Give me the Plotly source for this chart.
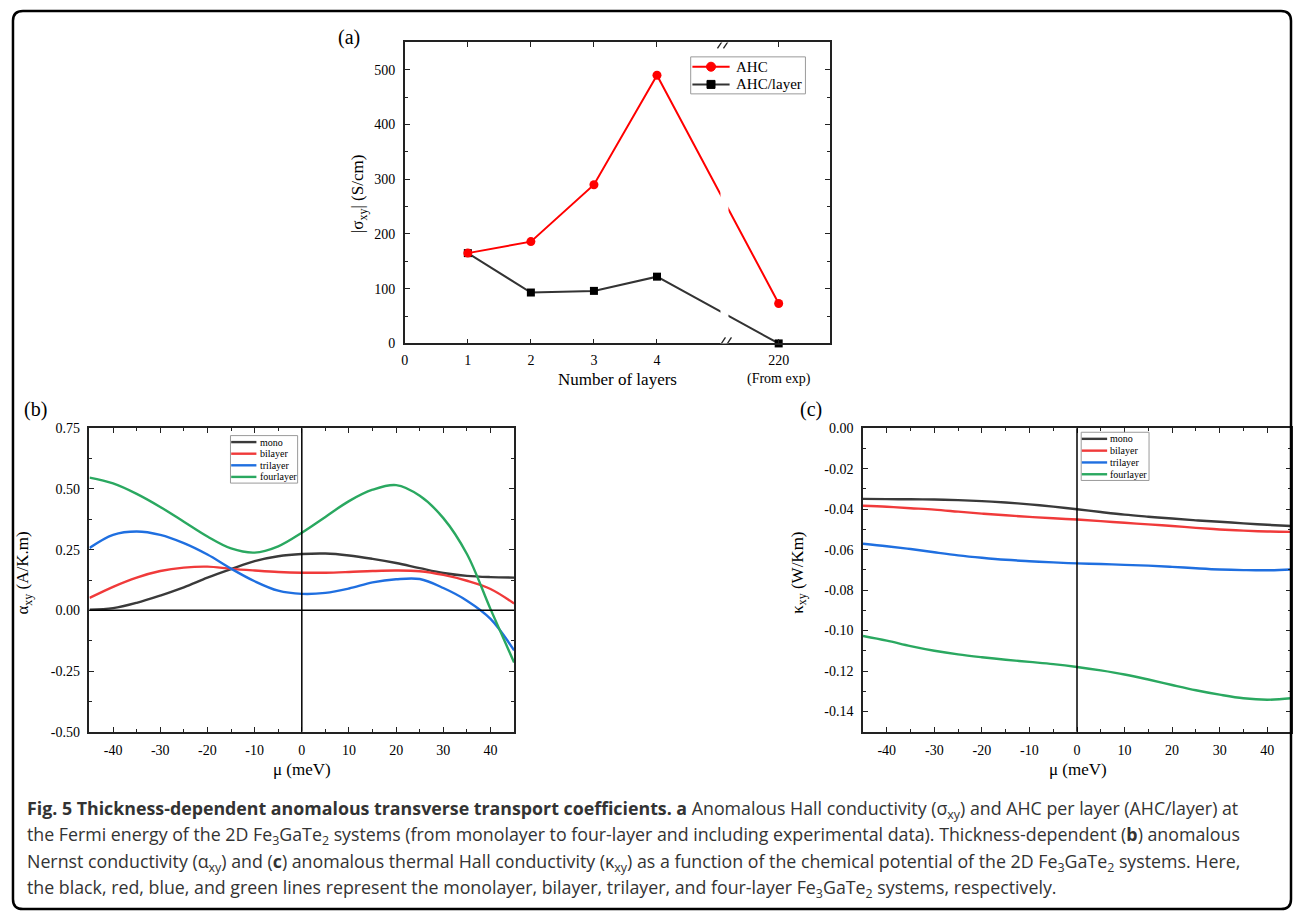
import plotly.graph_objects as go

W, H = 1293, 920

# ---------------- data ----------------
layers = [1, 2, 3, 4, 220]
layer_labels = ["1", "2", "3", "4", "220<br>(From exp)"]
ahc = [165, 186, 290, 490, 73]
ahc_per_layer = [165, 93, 96, 122, 0]

mu = [-45, -40, -35, -30, -25, -20, -15, -10, -5, 0, 5, 10, 15, 20, 25, 30, 35, 40, 45]
series_names = ["mono", "bilayer", "trilayer", "fourlayer"]
alpha_mono = [0.003, 0.009, 0.031, 0.061, 0.095, 0.135, 0.170, 0.203, 0.223, 0.232, 0.234, 0.226, 0.212, 0.195, 0.174, 0.154, 0.142, 0.137, 0.135]
alpha_bi = [0.051, 0.097, 0.135, 0.162, 0.176, 0.180, 0.171, 0.164, 0.158, 0.155, 0.155, 0.158, 0.162, 0.164, 0.161, 0.146, 0.122, 0.088, 0.028]
alpha_tri = [0.257, 0.311, 0.325, 0.311, 0.277, 0.230, 0.172, 0.120, 0.081, 0.068, 0.072, 0.090, 0.115, 0.128, 0.129, 0.092, 0.040, -0.035, -0.165]
alpha_four = [0.547, 0.523, 0.480, 0.426, 0.365, 0.304, 0.255, 0.238, 0.264, 0.320, 0.385, 0.450, 0.497, 0.516, 0.472, 0.380, 0.232, 0.005, -0.215]

kappa_mono = [-0.0349, -0.0350, -0.0351, -0.0352, -0.0355, -0.0360, -0.0367, -0.0376, -0.0387, -0.0400, -0.0414, -0.0427, -0.0437, -0.0446, -0.0455, -0.0462, -0.0470, -0.0477, -0.0483]
kappa_bi = [-0.0383, -0.0388, -0.0395, -0.0402, -0.0412, -0.0422, -0.0430, -0.0438, -0.0445, -0.0451, -0.0459, -0.0467, -0.0475, -0.0483, -0.0492, -0.0500, -0.0506, -0.0510, -0.0512]
kappa_tri = [-0.0571, -0.0583, -0.0597, -0.0613, -0.0628, -0.0640, -0.0650, -0.0657, -0.0663, -0.0668, -0.0671, -0.0675, -0.0679, -0.0685, -0.0692, -0.0698, -0.0701, -0.0702, -0.0698]
kappa_four = [-0.1027, -0.1050, -0.1077, -0.1100, -0.1118, -0.1132, -0.1144, -0.1155, -0.1166, -0.1180, -0.1197, -0.1217, -0.1242, -0.1269, -0.1295, -0.1317, -0.1335, -0.1342, -0.1335]

a_yticks = [0, 100, 200, 300, 400, 500]
b_xticks = [-40, -30, -20, -10, 0, 10, 20, 30, 40]
b_yticks = [-0.50, -0.25, 0.00, 0.25, 0.50, 0.75]
c_yticks = [0.00, -0.02, -0.04, -0.06, -0.08, -0.10, -0.12, -0.14]

caption_lines = [
    "<b>Fig. 5 Thickness-dependent anomalous transverse transport coefficients. a</b> Anomalous Hall conductivity (σ<sub>xy</sub>) and AHC per layer (AHC/layer) at",
    "the Fermi energy of the 2D Fe<sub>3</sub>GaTe<sub>2</sub> systems (from monolayer to four-layer and including experimental data). Thickness-dependent (<b>b</b>) anomalous",
    "Nernst conductivity (α<sub>xy</sub>) and (<b>c</b>) anomalous thermal Hall conductivity (κ<sub>xy</sub>) as a function of the chemical potential of the 2D Fe<sub>3</sub>GaTe<sub>2</sub> systems. Here,",
    "the black, red, blue, and green lines represent the monolayer, bilayer, trilayer, and four-layer Fe<sub>3</sub>GaTe<sub>2</sub> systems, respectively.",
]

# ---------------- styles ----------------
SERIF = "Liberation Serif"
colors = ["#3a3a3a", "#f03a3a", "#1f6fe0", "#2aa860"]
LW = 2.4

# broken-axis mapping for panel (a)
POS_220 = 5.93
BREAK_POS = 5.07
def axis_pos(n):
    return n if n <= 4 else POS_220

def fx(px):
    return px / W
def fy(py):
    return 1 - py / H

fig = go.Figure()

# ---------------- panel (a) ----------------
xa = [axis_pos(n) for n in layers]
fig.add_trace(go.Scatter(x=xa, y=ahc_per_layer, mode="lines+markers", xaxis="x", yaxis="y",
                         line=dict(color="#333333", width=2), cliponaxis=False,
                         marker=dict(symbol="square", size=8, color="black"), showlegend=False))
fig.add_trace(go.Scatter(x=xa, y=ahc, mode="lines+markers", xaxis="x", yaxis="y",
                         line=dict(color="#ff0000", width=2), cliponaxis=False,
                         marker=dict(symbol="circle", size=9, color="#ff0000"), showlegend=False))

# ---------------- panel (b) ----------------
for name, ys, col in zip(series_names, [alpha_mono, alpha_bi, alpha_tri, alpha_four], colors):
    fig.add_trace(go.Scatter(x=mu, y=ys, mode="lines", xaxis="x2", yaxis="y2", name=name,
                             line=dict(color=col, width=LW, shape="spline", smoothing=1.0), showlegend=False))
# ---------------- panel (c) ----------------
for name, ys, col in zip(series_names, [kappa_mono, kappa_bi, kappa_tri, kappa_four], colors):
    fig.add_trace(go.Scatter(x=mu, y=ys, mode="lines", xaxis="x3", yaxis="y3", name=name,
                             line=dict(color=col, width=LW, shape="spline", smoothing=1.0), showlegend=False))

tickfont = dict(family=SERIF, size=14, color="black")
def ax(**kw):
    base = dict(showgrid=False, zeroline=False, showline=True, linecolor="#222", linewidth=1.5,
                mirror="ticks", ticks="inside", ticklen=5, tickwidth=1.2, tickcolor="#222",
                tickfont=tickfont, ticklabelstandoff=5)
    base.update(kw)
    return base

fmt2 = lambda v: ("-" if v < 0 else "") + f"{abs(v):.2f}"

fig.update_layout(
    width=W, height=H, margin=dict(l=0, r=0, t=0, b=0),
    paper_bgcolor="white", plot_bgcolor="white",
    showlegend=False,
    xaxis=ax(domain=[fx(402.7), fx(829)], range=[0, 6.745], anchor="y",
             tickvals=[0] + [axis_pos(n) for n in layers], ticktext=["0"] + layer_labels, ticklabelstandoff=3),
    yaxis=ax(domain=[fy(342), fy(36)], range=[0, 550], anchor="x",
             tickvals=a_yticks, ticktext=[str(v) for v in a_yticks],
             minor=dict(ticks="inside", ticklen=3, dtick=50, tickcolor="#222")),
    xaxis2=ax(domain=[fx(86.7), fx(512.3)], range=[-45, 45], anchor="y2",
              tickvals=b_xticks, ticktext=[str(v) for v in b_xticks],
              minor=dict(ticks="inside", ticklen=3, tickvals=[-35, -25, -15, -5, 5, 15, 25, 35], tickcolor="#222")),
    yaxis2=ax(domain=[fy(736.7), fy(428.3)], range=[-0.5, 0.75], anchor="x2",
              tickvals=b_yticks, ticktext=[fmt2(v) for v in b_yticks],
              minor=dict(ticks="inside", ticklen=3, dtick=0.125, tickcolor="#222")),
    xaxis3=ax(domain=[fx(862), fx(1291)], range=[-45, 45], anchor="y3",
              tickvals=b_xticks, ticktext=[str(v) for v in b_xticks],
              minor=dict(ticks="inside", ticklen=3, tickvals=[-35, -25, -15, -5, 5, 15, 25, 35], tickcolor="#222")),
    yaxis3=ax(domain=[fy(736.7), fy(428.3)], range=[-0.15, 0.0], anchor="x3",
              tickvals=c_yticks, ticktext=[fmt2(v) for v in c_yticks],
              minor=dict(ticks="inside", ticklen=3, dtick=0.01, tickcolor="#222")),
)

shapes = []
# zero lines
shapes.append(dict(type="line", xref="x2", yref="y2 domain", x0=0, x1=0, y0=0, y1=1, line=dict(color="black", width=1.5)))
shapes.append(dict(type="line", xref="x2 domain", yref="y2", x0=0, x1=1, y0=0, y1=0, line=dict(color="black", width=1.5)))
shapes.append(dict(type="line", xref="x3", yref="y3 domain", x0=0, x1=0, y0=0, y1=1, line=dict(color="black", width=1.5)))

# axis break in (a): white band through the plot and slashes on top/bottom axes
shapes.append(dict(type="rect", xref="x", yref="y domain", xsizemode="pixel", xanchor=BREAK_POS,
                   x0=-4, x1=4, y0=0.0, y1=1.0, fillcolor="white", line=dict(width=0), layer="above"))
for yv in [0, 550]:
    for off in [-3, 3]:
        shapes.append(dict(type="line", xref="x", yref="y", xsizemode="pixel", xanchor=BREAK_POS,
                           ysizemode="pixel", yanchor=yv, x0=off - 4, x1=off + 4, y0=-6, y1=6,
                           line=dict(color="#222", width=1.3), layer="above"))

annotations = []

# ---------------- manual legends ----------------
def legend_box(x0, y0, x1, y1):
    shapes.append(dict(type="rect", xref="paper", yref="paper", x0=fx(x0), x1=fx(x1), y0=fy(y1), y1=fy(y0),
                       line=dict(color="#9a9a9a", width=1), fillcolor="white", layer="above"))

def legend_item(lx0, lx1, ly, color, text, tx, size, lw=2.4, marker=None):
    shapes.append(dict(type="line", xref="paper", yref="paper", x0=fx(lx0), x1=fx(lx1), y0=fy(ly), y1=fy(ly),
                       line=dict(color=color, width=lw), layer="above"))
    if marker is not None:
        mx = (lx0 + lx1) / 2
        kind, mcol, r = marker
        shapes.append(dict(type=kind, xref="paper", yref="paper", xsizemode="pixel", ysizemode="pixel",
                           xanchor=fx(mx), yanchor=fy(ly), x0=-r, x1=r, y0=-r, y1=r,
                           fillcolor=mcol, line=dict(color=mcol, width=1), layer="above"))
    annotations.append(dict(xref="paper", yref="paper", x=fx(tx), y=fy(ly), xanchor="left", yanchor="middle",
                            text=text, showarrow=False, font=dict(family=SERIF, size=size, color="black")))

legend_box(689.3, 50.7, 804.3, 88.3)
legend_item(691, 728.3, 60.7, "#ff0000", "AHC", 732.3, 15, lw=2, marker=("circle", "#ff0000", 4.5))
legend_item(691, 728.3, 78.7, "#333333", "AHC/layer", 732.3, 15, lw=2, marker=("rect", "black", 4))

legend_box(228, 435.7, 295.3, 484)
for i, (name, col) in enumerate(zip(series_names, colors)):
    legend_item(228.7, 254, 442.3 + i * 11.8, col, name, 255.5, 10)

legend_box(1080.7, 432.3, 1148.7, 481.3)
for i, (name, col) in enumerate(zip(series_names, colors)):
    legend_item(1081.3, 1106.7, 439 + i * 12, col, name, 1108, 10)

# ---------------- text ----------------
def txt(x, y, text, size, angle=0, anchor="center", family=SERIF, color="black", align="center"):
    annotations.append(dict(xref="paper", yref="paper", x=fx(x), y=fy(y), xanchor=anchor, yanchor="middle",
                            text=text, showarrow=False, textangle=angle, align=align,
                            font=dict(family=family, size=size, color=color)))

txt(347, 31, "(a)", 20)
txt(33, 409, "(b)", 20)
txt(810, 409, "(c)", 20)
txt(616, 379, "Number of layers", 17)
txt(357, 190, "|σ<sub>xy</sub>| (S/cm)", 17, angle=-90)
txt(300, 775, "μ (meV)", 17)
txt(1077, 775, "μ (meV)", 17)
txt(21, 575, "α<sub>xy</sub> (A/K.m)", 17, angle=-90)
txt(797, 575, "κ<sub>xy</sub> (W/Km)", 17, angle=-90)

# caption lines
for i, line in enumerate(caption_lines):
    txt(22, 816 + i * 26.6, line, 17.8, anchor="left", family="Open Sans", color="#333333", align="left")

# outer rounded frame
L, T, R, B, r = 10, 4, 1291, 917, 10
path = (f"M {fx(L+r)},{fy(T)} L {fx(R-r)},{fy(T)} Q {fx(R)},{fy(T)} {fx(R)},{fy(T+r)} "
        f"L {fx(R)},{fy(B-r)} Q {fx(R)},{fy(B)} {fx(R-r)},{fy(B)} L {fx(L+r)},{fy(B)} "
        f"Q {fx(L)},{fy(B)} {fx(L)},{fy(B-r)} L {fx(L)},{fy(T+r)} Q {fx(L)},{fy(T)} {fx(L+r)},{fy(T)} Z")
shapes.append(dict(type="path", xref="paper", yref="paper", path=path, line=dict(color="black", width=2.5), layer="above"))

fig.update_layout(shapes=shapes, annotations=annotations)
fig.write_html("out.html", config={"displayModeBar": False},
               post_script="document.body.style.margin='0px';document.body.style.overflow='hidden';")
